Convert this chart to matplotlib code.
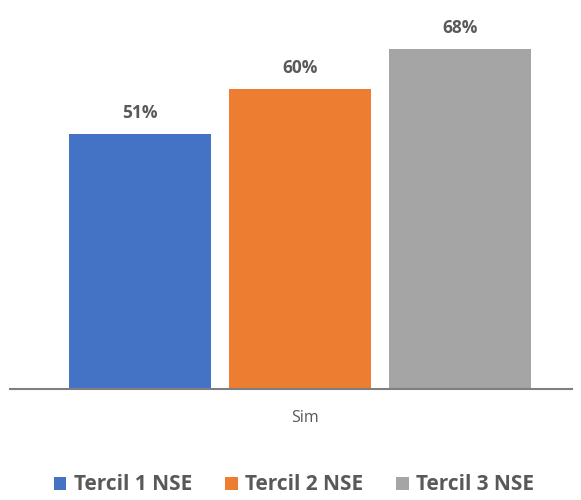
import matplotlib
matplotlib.use("Agg")
import matplotlib.pyplot as plt
from matplotlib.patches import Patch

# --- Data ---
series = ["Tercil 1 NSE", "Tercil 2 NSE", "Tercil 3 NSE"]
values = [51, 60, 68]
category = "Sim"
colors = ["#4472C4", "#ED7D31", "#A5A5A5"]

plt.rcParams["font.family"] = ["Open Sans", "DejaVu Sans"]
text_color = "#595959"

fig = plt.figure(figsize=(5.81, 5.0), dpi=100)
# axes placed in pixel terms: left 10, right 572, baseline 389 from top
ax = fig.add_axes([10 / 581, 111 / 500, 562 / 581, 369 / 500])

x = list(range(len(values)))
bars = ax.bar(x, values, width=0.89, color=colors)

for b, v in zip(bars, values):
    ax.annotate(f"{v}%", (b.get_x() + b.get_width() / 2, v),
                xytext=(0, 15), textcoords="offset points",
                ha="center", va="center", fontsize=12.5,
                fontweight="bold", color=text_color)

ax.set_xlim(-0.8125, 2.7)
ax.set_ylim(0, 73.8)
ax.set_xticks([1.03])
ax.set_xticklabels([category], fontsize=11.5, color=text_color)
ax.tick_params(axis="x", length=0, pad=15)
ax.set_yticks([])
for s in ["top", "right", "left"]:
    ax.spines[s].set_visible(False)
ax.spines["bottom"].set_color("#7F7F7F")
ax.spines["bottom"].set_linewidth(1.5)

handles = [Patch(facecolor=c, label=s) for c, s in zip(colors, series)]
fig.legend(handles=handles, loc="center", bbox_to_anchor=(0.506, 0.03),
           ncol=3, frameon=False, handlelength=0.6, handleheight=0.6,
           handletextpad=0.35, columnspacing=1.6,
           prop={"size": 15, "weight": "bold"}, labelcolor=text_color)

fig.savefig("out.png", dpi=100)
plt.close()
